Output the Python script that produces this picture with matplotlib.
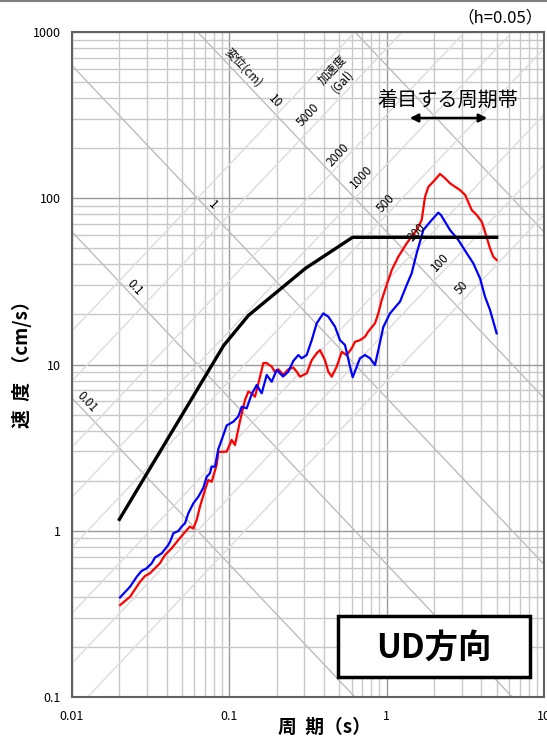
import numpy as np
import matplotlib
matplotlib.use('Agg')
import matplotlib.pyplot as plt
from matplotlib.patches import Rectangle
from matplotlib.lines import Line2D

plt.rcParams['font.family'] = ['Noto Sans CJK JP', 'DejaVu Sans']

# design spectrum (black)
design_T = [0.02, 0.092, 0.132, 0.305, 0.607, 5.0]
design_V = [1.17, 13.0, 19.7, 37.9, 58.2, 58.2]

# observed spectrum (red)
red_T = [0.0202, 0.0234, 0.0271, 0.0291, 0.0313, 0.0362, 0.0390, 0.0430, 0.0474, 0.0536,
         0.0562, 0.0590, 0.0620, 0.0651, 0.0700, 0.0735, 0.0772, 0.0831, 0.0851, 0.0962,
         0.1035, 0.1086, 0.1169, 0.1258, 0.1320, 0.1388, 0.1456, 0.1566, 0.1644, 0.1728,
         0.1859, 0.1951, 0.2048, 0.2203, 0.2370, 0.2550, 0.2681, 0.2812, 0.3103, 0.3339,
         0.3591, 0.3771, 0.4056, 0.4256, 0.4473, 0.4813, 0.5178, 0.5572, 0.5995, 0.6290,
         0.6767, 0.7284, 0.7646, 0.8431, 0.8849, 0.9300, 1.000, 1.077, 1.186, 1.341,
         1.552, 1.670, 1.753, 1.840, 2.028, 2.183, 2.349, 2.527, 2.925, 3.147,
         3.472, 3.735, 4.019, 4.217, 4.537, 4.762, 5.0]
red_V = [0.357, 0.401, 0.494, 0.534, 0.555, 0.637, 0.715, 0.784, 0.880, 1.01,
         1.06, 1.03, 1.16, 1.40, 1.76, 2.02, 1.97, 2.49, 2.98, 2.99,
         3.52, 3.28, 4.57, 6.12, 6.86, 6.71, 6.40, 8.41, 10.2, 10.2,
         9.70, 9.01, 9.36, 8.65, 9.36, 9.59, 9.05, 8.45, 8.85, 10.6,
         11.7, 12.2, 10.6, 9.05, 8.45, 9.70, 11.9, 11.4, 12.5, 13.7,
         14.0, 14.7, 15.8, 17.7, 20.3, 24.4, 30.1, 37.0, 44.5, 53.6,
         64.4, 74.0, 102, 117, 129, 140, 132, 123, 112, 105,
         85.0, 79.3, 72.3, 62.9, 50.0, 44.5, 42.5]

# observed spectrum (blue)
blue_T = [0.0202, 0.0234, 0.0258, 0.0277, 0.0298, 0.0321, 0.0337, 0.0372, 0.0409, 0.0420,
          0.0441, 0.0474, 0.0498, 0.0523, 0.0548, 0.0590, 0.0635, 0.0683, 0.0718, 0.0753,
          0.0772, 0.0811, 0.0851, 0.0894, 0.0962, 0.1060, 0.1140, 0.1199, 0.1289, 0.1388,
          0.1493, 0.1606, 0.1728, 0.1859, 0.2000, 0.2194, 0.2370, 0.2550, 0.2745, 0.2884,
          0.3103, 0.3339, 0.3591, 0.3957, 0.4256, 0.4694, 0.5051, 0.5435, 0.5848, 0.6083,
          0.6452, 0.6767, 0.7284, 0.7837, 0.8431, 0.8849, 0.9519, 1.050, 1.216, 1.341,
          1.442, 1.552, 1.710, 1.933, 2.129, 2.213, 2.527, 2.854, 3.227, 3.554,
          3.920, 4.217, 4.537, 5.0]
blue_V = [0.397, 0.461, 0.529, 0.573, 0.594, 0.637, 0.690, 0.732, 0.821, 0.859,
          0.965, 0.997, 1.06, 1.11, 1.27, 1.46, 1.60, 1.81, 2.11, 2.22,
          2.43, 2.43, 3.10, 3.52, 4.30, 4.53, 4.87, 5.57, 5.45, 6.65,
          7.53, 6.71, 8.65, 7.88, 9.27, 8.47, 9.05, 10.5, 11.4, 10.9,
          11.4, 14.0, 17.7, 20.3, 19.4, 16.9, 14.0, 13.1, 9.70, 8.38,
          9.70, 10.9, 11.4, 10.9, 9.93, 12.2, 16.8, 20.3, 23.9, 30.1,
          35.4, 46.7, 64.4, 74.0, 81.9, 79.3, 64.4, 56.1, 46.7, 40.6,
          33.0, 25.6, 21.3, 15.4]

# tripartite guide lines
disp_levels = [0.01, 0.1, 1, 10, 100]          # cm
acc_levels = [50, 100, 200, 500, 1000, 2000, 5000, 10000]  # Gal

x_ticks = [0.01, 0.1, 1, 10]
x_ticklabels = ['0.01', '0.1', '1', '10']
y_ticks = [0.1, 1, 10, 100, 1000]
y_ticklabels = ['0.1', '1', '10', '100', '1000']

W, H = 547, 738
fig = plt.figure(figsize=(W / 100, H / 100), dpi=100)
ax = fig.add_axes([72 / W, 1 - 697 / H, 472 / W, 665 / H])
ax.set_xscale('log')
ax.set_yscale('log')
ax.set_xlim(0.01, 10)
ax.set_ylim(0.1, 1000)

ax.grid(which='minor', color='#c8c8c8', lw=1.0, zorder=0)
ax.grid(which='major', color='#9a9a9a', lw=1.0, zorder=0)
ax.set_axisbelow(True)

Tg = np.array([0.01, 10])
for d in disp_levels:
    ax.plot(Tg, 2 * np.pi * d / Tg, color='#bdbdbd', lw=1.0, zorder=1)
for a in acc_levels:
    ax.plot(Tg, a * Tg / (2 * np.pi), color='#dcdcdc', lw=1.0, zorder=1)

ax.plot(design_T, design_V, color='black', lw=2.4, zorder=4)
ax.plot(red_T, red_V, color='#ff0000', lw=1.6, zorder=3)
ax.plot(blue_T, blue_V, color='#0000ff', lw=1.6, zorder=3)

ax.set_xticks(x_ticks)
ax.set_xticklabels(x_ticklabels)
ax.set_yticks(y_ticks)
ax.set_yticklabels(y_ticklabels)
ax.tick_params(which='both', length=0, labelsize=9)
ax.tick_params(axis='x', pad=9)
ax.tick_params(axis='y', pad=8)
for s in ax.spines.values():
    s.set_color('#606060')
    s.set_linewidth(1.5)


def ftext(x, y, s, **kw):
    fig.text(x / W, 1 - y / H, s, ha='center', va='center', **kw)


# diagonal labels
ang = np.degrees(np.arctan(166.25 / 157.33))
ftext(243, 68, '変位(cm)', rotation=-ang, fontsize=8.5)
ftext(332, 70, '加速度', rotation=ang, fontsize=8.5)
ftext(343, 81, '(Gal)', rotation=ang, fontsize=8.5)
for lab, x, y in [('10', 275, 101), ('1', 213, 205), ('0.1', 135, 288), ('0.01', 87, 402)]:
    ftext(x, y, lab, rotation=-ang, fontsize=8.5)
for lab, x, y in [('5000', 308, 115), ('2000', 338, 155), ('1000', 362, 177), ('500', 386, 203),
                  ('200', 417, 232), ('100', 440, 262), ('50', 462, 288)]:
    ftext(x, y, lab, rotation=ang, fontsize=8.5)

ftext(500, 18, '（h=0.05）', fontsize=12)
ftext(448, 100, '着目する周期帯', fontsize=14.5)
ax.annotate('', xy=(490 / W, 1 - 118 / H), xytext=(407 / W, 1 - 118 / H),
            xycoords='figure fraction', textcoords='figure fraction',
            arrowprops=dict(arrowstyle='<|-|>', color='black', lw=1.8, mutation_scale=12))

fig.add_artist(Rectangle((338 / W, 1 - 677 / H), 192 / W, 61 / H, transform=fig.transFigure,
                         facecolor='white', edgecolor='black', lw=2.5, zorder=5))
ftext(434, 648, 'UD方向', fontsize=24, fontweight='bold', zorder=6)

ftext(22, 360, '速  度  （cm/s）', rotation=90, fontsize=13.5, fontweight='bold')
ftext(324, 727, '周  期（s）', fontsize=13.5, fontweight='bold')

fig.add_artist(Line2D([0, 1], [1 - 1 / H, 1 - 1 / H], transform=fig.transFigure, color='#808080', lw=1.5))

fig.savefig('out.png', dpi=100)
